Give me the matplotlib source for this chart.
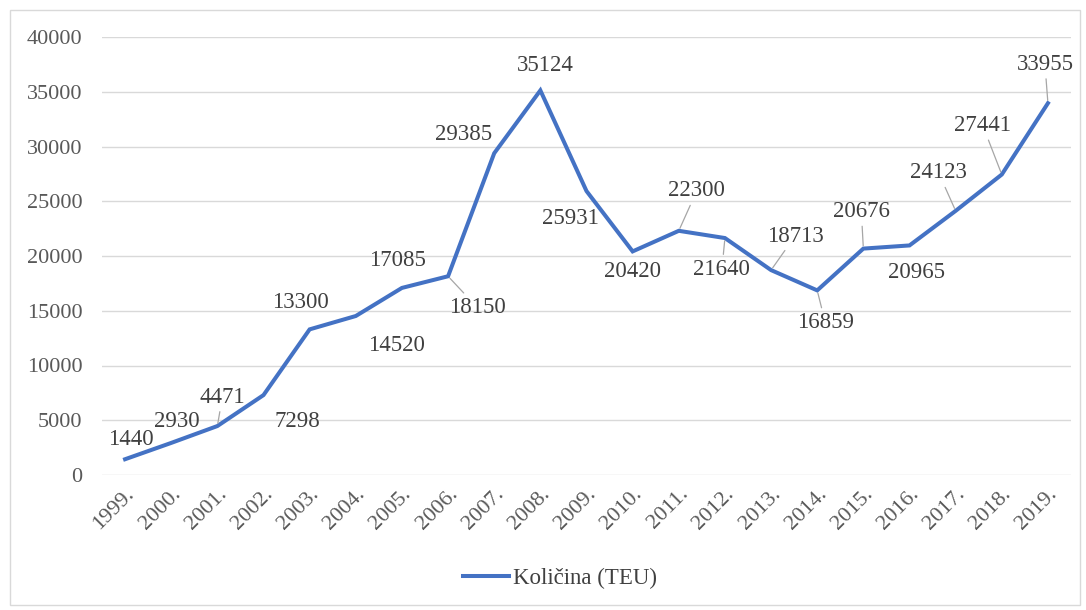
import numpy as np
import matplotlib.pyplot as plt
from matplotlib.patches import Rectangle

plt.rcParams['font.family'] = ['Liberation Serif', 'DejaVu Serif']

godine = ['1999.', '2000.', '2001.', '2002.', '2003.', '2004.', '2005.', '2006.', '2007.', '2008.',
          '2009.', '2010.', '2011.', '2012.', '2013.', '2014.', '2015.', '2016.', '2017.', '2018.', '2019.']
kolicina = [1440, 2930, 4471, 7298, 13300, 14520, 17085, 18150, 29385, 35124,
            25931, 20420, 22300, 21640, 18713, 16859, 20676, 20965, 24123, 27441, 33955]

# pomaci oznaka (px) i da li ima liniju vodilicu
pomaci = [(6, 20), (6, 21), (5, 29), (34, -26), (-9, 27), (41, -29), (-4, 27), (29, -31),
          (-31, 19), (5, 25), (-16, -27), (0, -20), (18, 40), (-3, -31), (24, 34), (8, -32),
          (-2, 37), (7, -27), (-17, 38), (-19, 49), (-3, 39)]
vodilice = [0, 0, 1, 0, 0, 0, 0, 1, 0, 0, 0, 0, 1, 1, 1, 1, 1, 0, 1, 1, 1]

fig = plt.figure(figsize=(10.86, 6.10), dpi=100)
ax = fig.add_axes([102/1086, 1-475/610, (1071-102)/1086, (475-37)/610])

x = np.arange(len(godine))
ax.plot(x, kolicina, color='#4472C4', lw=2.9, solid_joinstyle='miter', label='Količina (TEU)')

for i, v in enumerate(kolicina):
    dx, dy = pomaci[i]
    ap = dict(arrowstyle='-', color='#a6a6a6', lw=0.9, shrinkA=1, shrinkB=2) if vodilice[i] else None
    ax.annotate(str(v), (x[i], v), xytext=(dx, dy), textcoords='offset pixels',
                ha='center', va='center', fontsize=16.5, color='#404040', arrowprops=ap)

ax.set_xlim(-0.5, len(godine) - 0.5)
ax.set_ylim(0, 40000)
ax.set_yticks(np.arange(0, 40001, 5000))
ax.set_xticks(x)
ax.set_xticklabels(godine, rotation=45, ha='right', rotation_mode='anchor')
ax.tick_params(length=0, labelsize=16, labelcolor='#595959')
ax.tick_params(axis='y', pad=14)
ax.tick_params(axis='x', pad=7)
ax.grid(axis='y', color='#d9d9d9', lw=1)
ax.set_axisbelow(True)
for s in ax.spines.values():
    s.set_visible(False)

fig.legend(loc='center', bbox_to_anchor=(560/1086, 1-578/610), frameon=False,
           fontsize=16.5, labelcolor='#404040', handlelength=2.0, handletextpad=0.2)

fig.patches.append(Rectangle((10/1086, 5/610), 1070/1086, 595/610, transform=fig.transFigure,
                             fill=False, edgecolor='#d9d9d9', lw=1))

fig.savefig('out.png', dpi=100)
